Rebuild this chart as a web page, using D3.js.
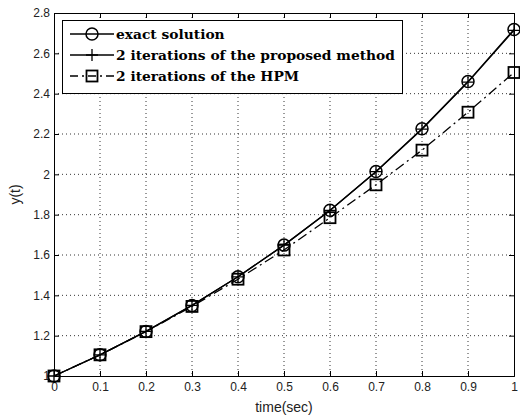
<!DOCTYPE html>
<html>
<head>
<meta charset="utf-8">
<script src="https://cdn.jsdelivr.net/npm/d3@7/dist/d3.min.js"></script>
<style>
  body { margin: 0; background: #fff; }
  svg { display: block; }
</style>
</head>
<body>
<svg id="chart" width="520" height="419"></svg>
<script>
// data
const times = [0, 0.1, 0.2, 0.3, 0.4, 0.5, 0.6, 0.7, 0.8, 0.9, 1];
const exactVals = [1, 1.105, 1.221, 1.35, 1.492, 1.649, 1.822, 2.014, 2.226, 2.46, 2.718];
const proposedVals = [1, 1.105, 1.221, 1.35, 1.492, 1.649, 1.821, 2.013, 2.224, 2.457, 2.714];
const hpmVals = [1, 1.105, 1.22, 1.345, 1.48, 1.625, 1.785, 1.948, 2.12, 2.308, 2.505];
const xTicks = [0, 0.1, 0.2, 0.3, 0.4, 0.5, 0.6, 0.7, 0.8, 0.9, 1];
const yTicks = [1, 1.2, 1.4, 1.6, 1.8, 2, 2.2, 2.4, 2.6, 2.8];
const legendLabels = ['exact solution', '2 iterations of the proposed method', '2 iterations of the HPM'];

const svg = d3.select('#chart');
const margin = { top: 13, right: 6, bottom: 43, left: 54 };
const width = 520, height = 419;
const iw = width - margin.left - margin.right;
const ih = height - margin.top - margin.bottom;

const x = d3.scaleLinear().domain([0, 1]).range([0, iw]);
const y = d3.scaleLinear().domain([1, 2.8]).range([ih, 0]);

const g = svg.append('g').attr('transform', `translate(${margin.left},${margin.top})`);

// 网格
g.append('g').selectAll('line.vg').data(xTicks.slice(1, -1)).join('line')
  .attr('x1', d => x(d)).attr('x2', d => x(d)).attr('y1', 0).attr('y2', ih)
  .attr('stroke', '#000').attr('stroke-width', 0.8).attr('stroke-dasharray', '1,3');
g.append('g').selectAll('line.hg').data(yTicks.slice(1, -1)).join('line')
  .attr('x1', 0).attr('x2', iw).attr('y1', d => y(d)).attr('y2', d => y(d))
  .attr('stroke', '#000').attr('stroke-width', 0.8).attr('stroke-dasharray', '1,3');

// 坐标轴
const xAxis = g.append('g').attr('transform', `translate(0,${ih})`)
  .call(d3.axisBottom(x).tickValues(xTicks).tickSize(-5).tickPadding(6).tickFormat(d3.format('~g')));
const xTop = g.append('g')
  .call(d3.axisTop(x).tickValues(xTicks).tickSize(-5).tickFormat(''));
const yAxis = g.append('g')
  .call(d3.axisLeft(y).tickValues(yTicks).tickSize(-5).tickPadding(4).tickFormat(d3.format('~g')));
const yRight = g.append('g').attr('transform', `translate(${iw},0)`)
  .call(d3.axisRight(y).tickValues(yTicks).tickSize(-5).tickFormat(''));

[xAxis, xTop, yAxis, yRight].forEach(a => {
  a.select('.domain').attr('stroke', '#000');
  a.selectAll('.tick line').attr('stroke', '#000');
  a.selectAll('text').attr('font-family', 'Liberation Sans, Arial, sans-serif')
    .attr('font-size', 12).attr('fill', '#222');
});

svg.append('text').attr('x', margin.left + iw / 2).attr('y', 412)
  .attr('text-anchor', 'middle').attr('font-family', 'Liberation Sans, Arial, sans-serif')
  .attr('font-size', 14).attr('fill', '#222').text('time(sec)');
svg.append('text').attr('transform', `translate(20,${margin.top + ih / 2}) rotate(-90)`)
  .attr('text-anchor', 'middle').attr('font-family', 'Liberation Sans, Arial, sans-serif')
  .attr('font-size', 14).attr('fill', '#222').text('y(t)');

const line = d3.line().x(d => x(d[0])).y(d => y(d[1]));
const zip = vals => times.map((t, i) => [t, vals[i]]);

// 曲线
g.append('path').datum(zip(hpmVals)).attr('d', line)
  .attr('fill', 'none').attr('stroke', '#000').attr('stroke-width', 1.3)
  .attr('stroke-dasharray', '10,4,2,4');
g.append('path').datum(zip(exactVals)).attr('d', line)
  .attr('fill', 'none').attr('stroke', '#000').attr('stroke-width', 1.3);
g.append('path').datum(zip(proposedVals)).attr('d', line)
  .attr('fill', 'none').attr('stroke', '#000').attr('stroke-width', 1.3);

// 标记
function drawCircle(sel, cx, cy) {
  sel.append('circle').attr('cx', cx).attr('cy', cy).attr('r', 6)
    .attr('fill', 'none').attr('stroke', '#000').attr('stroke-width', 1.5);
}
function drawPlus(sel, cx, cy) {
  sel.append('path').attr('d', `M${cx - 6},${cy}H${cx + 6}M${cx},${cy - 6}V${cy + 6}`)
    .attr('stroke', '#000').attr('stroke-width', 1.3);
}
function drawSquare(sel, cx, cy) {
  sel.append('rect').attr('x', cx - 5.5).attr('y', cy - 5.5).attr('width', 11).attr('height', 11)
    .attr('fill', 'none').attr('stroke', '#000').attr('stroke-width', 1.8);
}
const mk = g.append('g');
hpmVals.forEach((v, i) => drawSquare(mk, x(times[i]), y(v)));
exactVals.forEach((v, i) => drawCircle(mk, x(times[i]), y(v)));
proposedVals.forEach((v, i) => drawPlus(mk, x(times[i]), y(v)));

// 图例
const lg = svg.append('g');
lg.append('rect').attr('x', 62.5).attr('y', 20.5).attr('width', 340).attr('height', 73)
  .attr('fill', '#fff').attr('stroke', '#000').attr('stroke-width', 1);
const rowY = [34, 55, 76];
const drawers = [drawCircle, drawPlus, drawSquare];
legendLabels.forEach((lab, i) => {
  const ly = rowY[i];
  const ln = lg.append('line').attr('x1', 70).attr('x2', 114).attr('y1', ly).attr('y2', ly)
    .attr('stroke', '#000').attr('stroke-width', 1.3);
  if (i === 2) ln.attr('stroke-dasharray', '8,4,2,4');
  drawers[i](lg, 92, ly);
  lg.append('text').attr('x', 116).attr('y', ly + 5)
    .attr('font-family', 'DejaVu Serif, Liberation Serif, serif').attr('font-weight', 'bold')
    .attr('font-size', 13.8).attr('fill', '#000').text(lab);
});
</script>
</body>
</html>
